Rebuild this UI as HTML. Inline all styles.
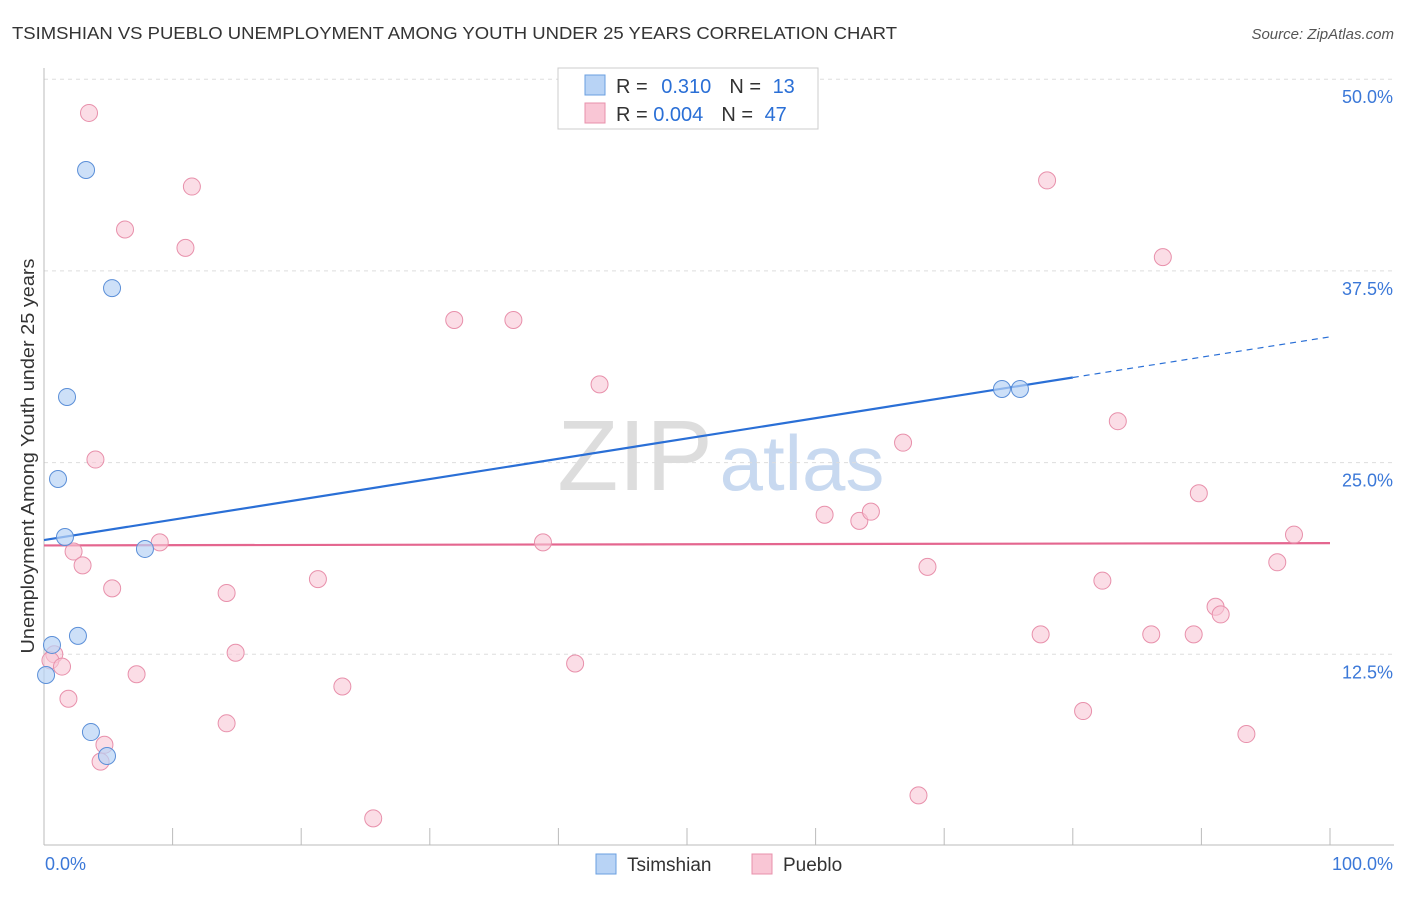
<!DOCTYPE html>
<html><head><meta charset="utf-8"><style>
body{margin:0;background:#fff;font-family:"Liberation Sans",sans-serif;}
svg text{font-family:"Liberation Sans",sans-serif;}
</style></head><body>
<svg id="chart" width="1406" height="892" xmlns="http://www.w3.org/2000/svg">
<text x="12" y="39" font-size="17.5" fill="#333" textLength="885" lengthAdjust="spacingAndGlyphs">TSIMSHIAN VS PUEBLO UNEMPLOYMENT AMONG YOUTH UNDER 25 YEARS CORRELATION CHART</text>
<text x="1394" y="39" font-size="15" fill="#555" font-style="italic" text-anchor="end">Source: ZipAtlas.com</text>
<g>
<text x="635" y="490" font-size="100" fill="#ddd" font-family="Liberation Serif" text-anchor="middle">ZIP</text>
<text x="802" y="490" font-size="78" fill="#c8d9f0" text-anchor="middle">atlas</text>
</g>
<g id="grid"></g><g id="axes"></g><g id="lines"></g><g id="pts"></g>
<text transform="translate(34,456) rotate(-90)" font-size="18" fill="#333" textLength="395" lengthAdjust="spacingAndGlyphs" text-anchor="middle">Unemployment Among Youth under 25 years</text>
<g>
<rect x="558" y="68" width="260" height="61" fill="#fff" stroke="#ccc"/>
<rect x="585" y="75" width="20" height="20" fill="#b8d3f5" stroke="#6a9fe0"/>
<rect x="585" y="103" width="20" height="20" fill="#f9c6d5" stroke="#e890ab"/>
<text x="616" y="93" font-size="20" fill="#333">R = <tspan fill="#2a6fd6" dx="8">0.310</tspan><tspan dx="18" fill="#333">N = </tspan><tspan dx="6" fill="#2a6fd6">13</tspan></text>
<text x="616" y="121" font-size="20" fill="#333">R = <tspan fill="#2a6fd6">0.004</tspan><tspan dx="18" fill="#333">N = </tspan><tspan dx="6" fill="#2a6fd6">47</tspan></text>
</g>
<g>
<rect x="596" y="854" width="20" height="20" fill="#b8d3f5" stroke="#6a9fe0"/>
<text x="627" y="871" font-size="19" fill="#333">Tsimshian</text>
<rect x="752" y="854" width="20" height="20" fill="#f9c6d5" stroke="#e890ab"/>
<text x="783" y="871" font-size="19" fill="#333">Pueblo</text>
</g>
</svg>
<script>
const yTicks=[12.5,25,37.5,50];
const yTickLabels=["12.5%","25.0%","37.5%","50.0%"];
const xTickLabels=["0.0%","100.0%"];
const tsimX=[3.27,5.29,1.79,1.09,1.63,7.85,0.62,2.64,0.16,3.65,4.90,74.49,75.89];
const tsimY=[44.08,36.38,29.28,23.93,20.15,19.37,13.11,13.70,11.15,7.43,5.87,29.80,29.80];
const puebX=[3.5,11.5,6.3,11.0,31.9,36.5,43.2,4.0,78.0,87.0,66.8,83.5,89.8,60.7,63.4,64.3,38.8,9.0,97.2,2.3,3.0,95.9,68.7,21.3,82.3,5.3,14.2,91.1,91.5,77.5,86.1,89.4,14.9,0.8,0.5,1.4,41.3,7.2,23.2,1.9,80.8,14.2,4.7,93.5,4.4,68.0,25.6];
const puebY=[47.8,43.0,40.2,39.0,34.3,34.3,30.1,25.2,43.4,38.4,26.3,27.7,23.0,21.6,21.2,21.8,19.8,19.8,20.3,19.2,18.3,18.5,18.2,17.4,17.3,16.8,16.5,15.6,15.1,13.8,13.8,13.8,12.6,12.5,12.1,11.7,11.9,11.2,10.4,9.6,8.8,8.0,6.6,7.3,5.5,3.3,1.8];
const tsimTrend=[19.95,33.2];
const tsimSolidEnd=80;
const puebTrend=[19.6,19.75];

const NS="http://www.w3.org/2000/svg";
const X0=44,X1=1330,Y0=846,PPU=191.7/12.5;
const sx=v=>X0+(X1-X0)*v/100, sy=v=>Y0-v*PPU;
function mk(t,a,p){const e=document.createElementNS(NS,t);for(const k in a)e.setAttribute(k,a[k]);p.appendChild(e);return e;}
const grid=document.getElementById('grid'),axes=document.getElementById('axes'),lines=document.getElementById('lines'),pts=document.getElementById('pts');
yTicks.forEach((v,i)=>{
 const l=mk('line',{x1:44,x2:1394,y1:sy(v),y2:sy(v),stroke:'#ddd','stroke-dasharray':'4,4'},grid);
 
 
 const t=mk('text',{x:1393,y:sy(v)+24,'font-size':18,fill:'#3b78d8','text-anchor':'end'},grid);
 t.textContent=yTickLabels[i];
 
 
});
let a=mk('line',{x1:44,x2:44,y1:68,y2:845,stroke:'#bbb'},axes);


a=mk('line',{x1:44,x2:1394,y1:845,y2:845,stroke:'#bbb'},axes);


for(let i=0;i<=10;i++){
 const t=mk('line',{x1:sx(i*10),x2:sx(i*10),y1:828,y2:845,stroke:'#bbb'},axes);
 
 
}
[[0,'start',45],[100,'end',1393]].forEach((d,i)=>{
 const t=mk('text',{x:d[2],y:870,'font-size':18,fill:'#3b78d8','text-anchor':d[1]},axes);
 t.textContent=xTickLabels[i];
 
 
});
const ty=x=>tsimTrend[0]+(tsimTrend[1]-tsimTrend[0])*x/100;
let l=mk('line',{x1:sx(0),y1:sy(ty(0)),x2:sx(tsimSolidEnd),y2:sy(ty(tsimSolidEnd)),stroke:'#2a6fd6','stroke-width':2.2},lines);


l=mk('line',{x1:sx(tsimSolidEnd),y1:sy(ty(tsimSolidEnd)),x2:sx(100),y2:sy(ty(100)),stroke:'#2a6fd6','stroke-width':1.2,'stroke-dasharray':'6,5'},lines);


l=mk('line',{x1:sx(0),y1:sy(puebTrend[0]),x2:sx(100),y2:sy(puebTrend[1]),stroke:'#e4668f','stroke-width':2.2},lines);


puebX.forEach((x,i)=>{
 const c=mk('circle',{cx:sx(x),cy:sy(puebY[i]),r:8.5,fill:'#f9c6d5','fill-opacity':0.6,stroke:'#e890ab','stroke-width':1},pts);
 
 
});
tsimX.forEach((x,i)=>{
 const c=mk('circle',{cx:sx(x),cy:sy(tsimY[i]),r:8.5,fill:'#b8d3f5','fill-opacity':0.7,stroke:'#5b8fd8','stroke-width':1},pts);
 
 
});
</script>
</body></html>
